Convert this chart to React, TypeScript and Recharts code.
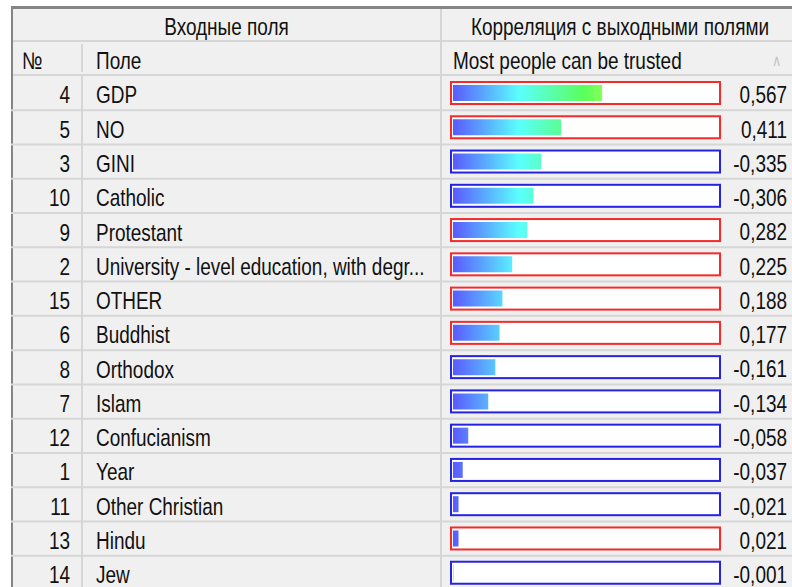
import React from 'react';
import { BarChart, Bar, XAxis, YAxis, LabelList } from 'recharts';

const ids = [4, 5, 3, 10, 9, 2, 15, 6, 8, 7, 12, 1, 11, 13, 14];
const fields = [
  'GDP',
  'NO',
  'GINI',
  'Catholic',
  'Protestant',
  'University - level education, with degr...',
  'OTHER',
  'Buddhist',
  'Orthodox',
  'Islam',
  'Confucianism',
  'Year',
  'Other Christian',
  'Hindu',
  'Jew',
];
const correlations = [0.567, 0.411, -0.335, -0.306, 0.282, 0.225, 0.188, 0.177, -0.161, -0.134, -0.058, -0.037, -0.021, 0.021, -0.001];

const data = fields.map((field, i) => ({
  field,
  id: ids[i],
  r: correlations[i],
  abs: Math.abs(correlations[i]),
}));

// tall, narrow look of the original grid font
const font = '"Liberation Sans", Arial, sans-serif';
const fontSize = 24;
const squeeze = 0.79;
const gridColor = '#d6d6d6';
const rowHalf = 514 / 15 / 2;

const Txt = ({ x, y, anchor = 'start', children }: any) => (
  <g transform={`translate(${x},${y}) scale(${squeeze},1)`}>
    <text x={0} y={0} textAnchor={anchor} dominantBaseline="central" fontSize={fontSize} fontFamily={font} fill="#111">
      {children}
    </text>
  </g>
);

const LeftTick = (props: any) => {
  const { y, payload } = props;
  const row = data.find(d => d.field === payload.value);
  return (
    <g>
      <line x1={11} x2={800} y1={y + rowHalf} y2={y + rowHalf} stroke={gridColor} strokeWidth={2} />
      <line x1={82} x2={82} y1={y - rowHalf} y2={y + rowHalf} stroke={gridColor} strokeWidth={2} />
      <line x1={441} x2={441} y1={y - rowHalf} y2={y + rowHalf} stroke={gridColor} strokeWidth={2} />
      <Txt x={70} y={y + 2} anchor="end">{row?.id}</Txt>
      <Txt x={96} y={y + 2}>{payload.value}</Txt>
    </g>
  );
};

const BoxBackground = (props: any) => {
  const { x, y, width, height, index } = props;
  const r = correlations[index] ?? 0;
  return (
    <rect
      x={x - 2}
      y={y - 3}
      width={width + 6}
      height={height + 6}
      fill="#ffffff"
      stroke={r >= 0 ? '#f52a2a' : '#2424e0'}
      strokeWidth={2}
    />
  );
};

const ValueLabel = (props: any) => {
  const { y, height, value } = props;
  const text = Number(value).toFixed(3).replace('.', ',');
  return <Txt x={787} y={y + height / 2 + 2} anchor="end">{text}</Txt>;
};

const headerText: React.CSSProperties = {
  position: 'absolute',
  fontFamily: font,
  fontSize,
  color: '#111',
  lineHeight: '34px',
  whiteSpace: 'nowrap',
  transform: `scaleX(${squeeze})`,
  transformOrigin: 'left center',
};

const App: React.FC = () => {
  return (
    <div style={{ position: 'absolute', top: 0, left: 0, width: 792, height: 587, overflow: 'hidden', background: '#fff' }}>
      {/* table frame */}
      <div
        style={{
          position: 'absolute',
          left: 11,
          top: 6,
          width: 800,
          height: 600,
          background: '#f0f0f0',
          borderTop: '3px solid #858585',
          borderLeft: '2px solid #858585',
        }}
      />
      {/* header row 1 */}
      <div style={{ position: 'absolute', left: 13, top: 40, width: 800, height: 2, background: gridColor }} />
      <div style={{ position: 'absolute', left: 440, top: 9, width: 2, height: 67, background: gridColor }} />
      <div style={{ ...headerText, left: 13, width: 427 / squeeze, top: 10, textAlign: 'center' }}>Входные поля</div>
      <div style={{ ...headerText, left: 442, width: 356 / squeeze, top: 10, textAlign: 'center' }}>Корреляция с выходными полями</div>
      {/* header row 2 */}
      <div style={{ position: 'absolute', left: 13, top: 74, width: 800, height: 2, background: gridColor }} />
      <div style={{ position: 'absolute', left: 81, top: 44, width: 2, height: 28, background: gridColor }} />
      <div style={{ ...headerText, left: 22, top: 44 }}>№</div>
      <div style={{ ...headerText, left: 96, top: 44 }}>Поле</div>
      <div style={{ ...headerText, left: 453, top: 44 }}>Most people can be trusted</div>
      <div style={{ ...headerText, left: 772, top: 44, color: '#c4c4c4', fontSize: 16 }}>∧</div>

      <div style={{ position: 'absolute', left: 0, top: 0 }}>
        <BarChart
          width={792}
          height={590}
          layout="vertical"
          data={data}
          margin={{ top: 76, right: 76, bottom: 0, left: 0 }}
          barSize={16}
        >
          <defs>
            <linearGradient id="hue" gradientUnits="userSpaceOnUse" x1={453} x2={716} y1={0} y2={0}>
              <stop offset="0" stopColor="#5a5aff" />
              <stop offset="0.25" stopColor="#5affff" />
              <stop offset="0.5" stopColor="#5aff5a" />
              <stop offset="0.75" stopColor="#ffff5a" />
              <stop offset="1" stopColor="#ff5a5a" />
            </linearGradient>
          </defs>
          <XAxis type="number" domain={[0, 1]} hide />
          <YAxis
            type="category"
            dataKey="field"
            width={453}
            axisLine={false}
            tickLine={false}
            interval={0}
            tick={LeftTick}
          />
          <Bar dataKey="abs" fill="url(#hue)" background={BoxBackground} isAnimationActive={false}>
            <LabelList dataKey="r" content={ValueLabel} />
          </Bar>
        </BarChart>
      </div>
    </div>
  );
};

export default App;
